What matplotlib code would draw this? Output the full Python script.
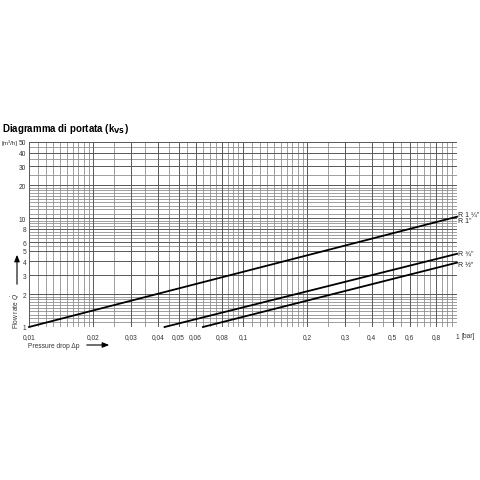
import numpy as np
import matplotlib
matplotlib.use('Agg')
import matplotlib.pyplot as plt

plt.rcParams['font.family'] = ['Liberation Sans', 'DejaVu Sans']

# valve lines (pressure drop in bar, flow in m3/h)
series_names = ['R 1 ¼"', 'R ¾"', 'R ½"']
series_dp = [[0.01, 1.0], [0.043, 1.0], [0.065, 1.0]]
series_q = [[1.0, 10.3], [1.0, 4.7], [1.0, 3.9]]

# extra label that points at the top line
extra_label = 'R 1"'

x_ticks = [0.01, 0.02, 0.03, 0.04, 0.05, 0.06, 0.08, 0.1, 0.2, 0.3, 0.4, 0.5, 0.6, 0.8, 1]
x_labels = ['0,01', '0,02', '0,03', '0,04', '0,05', '0,06', '0,08', '0,1',
            '0,2', '0,3', '0,4', '0,5', '0,6', '0,8', '1']
y_ticks = [1, 2, 3, 4, 5, 6, 8, 10, 20, 30, 40, 50]
y_labels = ['1', '2', '3', '4', '5', '6', '8', '10', '20', '30', '40', '50']

# grid lines
x_grid = (list(np.arange(0.010, 0.020, 0.001)) + list(np.arange(0.020, 0.100, 0.005))
          + list(np.arange(0.10, 0.20, 0.01)) + list(np.arange(0.20, 1.0001, 0.05)))
y_grid = (list(np.arange(1.0, 2.0, 0.1)) + list(np.arange(2.0, 5.0, 1.0))
          + list(np.arange(5.0, 10.0, 0.5)) + list(np.arange(10, 20, 1))
          + list(np.arange(20, 50.01, 5)))

fig = plt.figure(figsize=(4.81, 4.81), dpi=100)
ax = fig.add_axes([29 / 481, 1 - 328 / 481, 428 / 481, 185 / 481])
ax.set_xscale('log')
ax.set_yscale('log')
ax.set_xlim(0.01, 1)
ax.set_ylim(1, 50)

for gx in x_grid:
    ax.axvline(gx, color='#8f8f8f', lw=0.6, zorder=1)
for gy in y_grid:
    ax.axhline(gy, color='#8f8f8f', lw=0.6, zorder=1)
for gx in x_ticks:
    ax.axvline(gx, color='#5a5a5a', lw=0.7, zorder=1)
for gy in y_ticks:
    ax.axhline(gy, color='#5a5a5a', lw=0.7, zorder=1)

for dp, q in zip(series_dp, series_q):
    ax.plot(dp, q, color='black', lw=1.3, zorder=3, clip_on=False)

ax.set_xticks(x_ticks)
ax.set_xticklabels(x_labels)
ax.set_yticks(y_ticks)
ax.set_yticklabels(y_labels)
ax.minorticks_off()
ax.tick_params(length=0, labelsize=4.8, colors='#333333')
ax.tick_params(axis='x', pad=4)
ax.tick_params(axis='y', pad=2)
for s in ax.spines.values():
    s.set_visible(False)

# line labels at the right edge
ax.text(1.015, series_q[0][1] * 1.06, series_names[0], fontsize=5, va='center', ha='left', color='#222')
ax.text(1.015, series_q[0][1] * 0.92, extra_label, fontsize=5, va='center', ha='left', color='#222')
ax.text(1.015, series_q[1][1] * 1.02, series_names[1], fontsize=5, va='center', ha='left', color='#222')
ax.text(1.015, series_q[2][1] * 0.97, series_names[2], fontsize=5, va='center', ha='left', color='#222')

fig.text(462 / 481, 1 - 337 / 481, '[bar]', fontsize=4.8, color='#333', va='center', ha='left')
fig.text(2 / 481, 1 - 143 / 481, '[m³/h]', fontsize=4.5, color='#333', va='center', ha='left')

fig.text(2 / 481, 1 - 129 / 481, r'Diagramma di portata (k$_{\mathbf{VS}}$)', fontsize=7,
         fontweight='bold', va='center', ha='left')

# axis titles with arrows
fig.text(16 / 481, 1 - 311 / 481, r'Flow rate $\dot{Q}$', rotation=90, fontsize=4.8,
         color='#333', va='center', ha='center')
fig.add_artist(matplotlib.patches.FancyArrowPatch(
    (17 / 481, 1 - 288 / 481), (17 / 481, 1 - 253 / 481), transform=fig.transFigure,
    arrowstyle='-|>,head_length=4,head_width=1.6', color='black', lw=0.8))
fig.text(28 / 481, 1 - 346 / 481, 'Pressure drop Δp', fontsize=4.8, color='#333',
         va='center', ha='left')
fig.add_artist(matplotlib.patches.FancyArrowPatch(
    (84 / 481, 1 - 346 / 481), (112 / 481, 1 - 346 / 481), transform=fig.transFigure,
    arrowstyle='-|>,head_length=4,head_width=1.6', color='black', lw=0.8))

fig.savefig('out.png', dpi=100)
